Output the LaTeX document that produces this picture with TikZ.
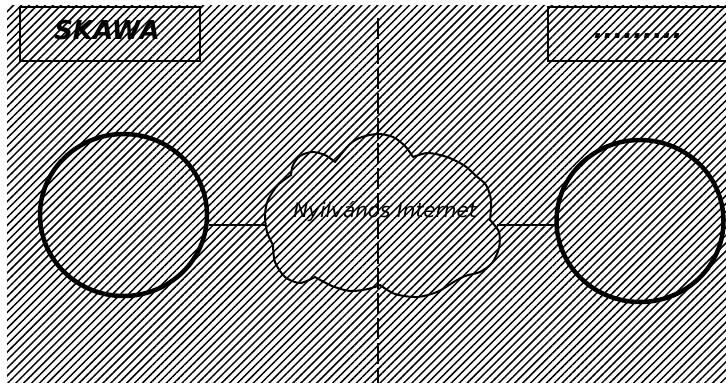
\documentclass[tikz,border=0pt]{standalone}
\usepackage{fontspec}
\setmainfont{DejaVu Sans}
\usetikzlibrary{patterns.meta,shapes.geometric}
\tikzset{
  labelbox/.style={draw, line width=2pt, inner sep=0pt, minimum width=180pt, minimum height=54pt},
  labeltext/.style={inner sep=0pt, anchor=base, font=\bfseries\itshape\fontsize{26}{30}\selectfont},
  site/.style={draw, ellipse, line width=4.5pt, minimum width=167pt, minimum height=162pt, inner sep=0pt},
  conn/.style={line width=2pt},
  cloudline/.style={line width=2pt, line join=round},
  divider/.style={line width=2pt, dash pattern=on 21pt off 4pt},
  hatch/.style={pattern={Lines[angle=45,distance=5.6pt,line width=1.5pt]}}
}
\begin{document}
\begin{tikzpicture}[x=1pt,y=-1pt]
\useasboundingbox (0,0) rectangle (726,383);
\clip (0,0) rectangle (726,383);
\pattern[hatch] (7,5) rectangle (740,395);
% label boxes
\node[labelbox] (skawa) at (110,34) {};
\node[labeltext] (skawat) at (107,39) {SKAWA};
\node[labelbox] (dots) at (638,34) {};
\node[labeltext] (dotst) at (638,38) {.........};
% sites
\node[site] (lc) at (123.5,215) {};
\node[site] (rc) at (640,221) {};
% cloud
\draw[cloudline]
  plot[smooth] coordinates {(335,162) (325,155) (312,152) (300,156) (293,165) (291,175)}
  -- plot[smooth] coordinates {(291,175) (278,185) (268,200) (265,215) (267,232) (273,245)}
  -- plot[smooth] coordinates {(273,245) (275,262) (285,277) (300,283) (315,277)}
  -- plot[smooth] coordinates {(315,277) (332,286) (350,291) (368,289) (380,285)}
  -- plot[smooth] coordinates {(380,285) (395,294) (417,297) (437,292) (452,283)}
  -- plot[smooth] coordinates {(452,283) (465,276) (480,272) (492,263) (499,248) (499,232) (490,220)}
  -- plot[smooth] coordinates {(490,220) (491,200) (486,185) (476,176)}
  -- plot[smooth] coordinates {(476,176) (465,166) (447,157) (428,153) (413,157)}
  -- plot[smooth] coordinates {(413,157) (405,146) (393,137) (378,134) (362,137) (350,144) (335,162)}
  -- cycle;
\node[font=\itshape\fontsize{20}{24}\selectfont, inner sep=0pt] (net) at (385,212) {Nyilvános Internet};
% connectors
\coordinate (cl) at (266,225);
\coordinate (cr) at (497,225);
\draw[conn] (lc.east |- cl) -- (cl);
\draw[conn] (cr) -- (rc.west |- cr);
% divider
\coordinate (dtop) at (378,18);
\coordinate (dbot) at (378,390);
\draw[divider] (dtop) -- (dbot);
\end{tikzpicture}
\end{document}
